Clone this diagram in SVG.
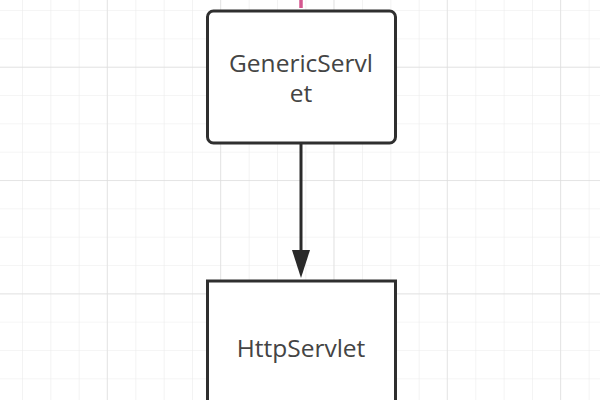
<svg xmlns="http://www.w3.org/2000/svg" width="600" height="400" viewBox="0 0 600 400">
<defs>
<pattern id="minor" x="-6.3" y="-18.3" width="28.33" height="28.33" patternUnits="userSpaceOnUse">
<path d="M 28.33 0 L 0 0 0 28.33" fill="none" stroke="#ebebeb" stroke-width="1.2"/>
</pattern>
<pattern id="major" x="-6.6" y="-46.6" width="113.33" height="113.33" patternUnits="userSpaceOnUse">
<path d="M 113.33 0 L 0 0 0 113.33" fill="none" stroke="#dedede" stroke-width="1.4"/>
</pattern>
<style>
.box{fill:#fff;stroke:#2f2f2f;stroke-width:3}
.lbl{font-family:"Open Sans","Noto Sans",sans-serif;font-size:24.5px;fill:#444;text-anchor:middle}
</style>
</defs>
<rect width="600" height="400" fill="#fff"/>
<rect width="600" height="400" fill="url(#minor)"/>
<rect width="600" height="400" fill="url(#major)"/>
<g id="connectors">
<line x1="301" y1="0" x2="301" y2="8" stroke="#d4578f" stroke-width="3.5"/>
<line x1="301" y1="144" x2="301" y2="252" stroke="#2a2a2a" stroke-width="3"/>
<path d="M292 250 L310 250 L301 278 Z" fill="#2a2a2a"/>
</g>
<g id="node-genericservlet">
<rect class="box" x="207.5" y="11" width="188" height="132" rx="6"/>
<text class="lbl" x="301" y="72">GenericServl</text>
<text class="lbl" x="301" y="102">et</text>
</g>
<g id="node-httpservlet">
<rect class="box" x="207.5" y="281" width="188" height="140"/>
<text class="lbl" x="301" y="357">HttpServlet</text>
</g>
</svg>
